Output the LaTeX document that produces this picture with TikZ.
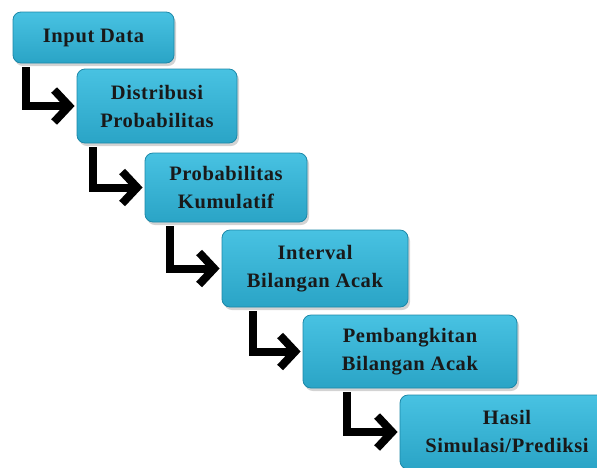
\documentclass[tikz,border=0pt]{standalone}
\usepackage{fontspec}
\setmainfont{Liberation Serif}[LetterSpace=3]
\usetikzlibrary{arrows.meta,shadows}
\definecolor{boxtop}{HTML}{48C2E2}
\definecolor{boxbot}{HTML}{2AA4C6}
\definecolor{boxline}{HTML}{1C88A8}
\begin{document}
\begin{tikzpicture}[x=1pt,y=-1pt,
  stepbox/.style={rectangle, rounded corners=8pt, draw=boxline, line width=0.8pt,
    top color=boxtop, bottom color=boxbot, align=center,
    font=\fontsize{20.5}{28}\selectfont\bfseries, text=black!90,
    drop shadow={opacity=0.35, shadow xshift=2pt, shadow yshift=-3pt}},
  arr/.style={line width=8pt, draw=black, line join=miter,
    -{Straight Barb[length=15pt,width=32pt,line width=8pt]}}]
\useasboundingbox (0,0) rectangle (597,467);
\node[stepbox, minimum width=161pt, minimum height=51pt] (b1) at (93.5,37.5) {Input Data};
\node[stepbox, minimum width=160pt, minimum height=74pt] (b2) at (157,106) {Distribusi\\Probabilitas};
\node[stepbox, minimum width=162pt, minimum height=69pt] (b3) at (226,187.5) {Probabilitas\\Kumulatif};
\node[stepbox, minimum width=186pt, minimum height=77pt] (b4) at (315,268.5) {Interval\\Bilangan Acak};
\node[stepbox, minimum width=214pt, minimum height=73pt] (b5) at (410,351.5) {Pembangkitan\\Bilangan Acak};
\node[stepbox, minimum width=214pt, minimum height=74pt] (b6) at (507,432) {Hasil\\Simulasi/Prediksi};
\draw[arr] ([xshift=13pt,yshift=-4pt]b1.south west) |- ([xshift=-2pt]b2.west);
\draw[arr] ([xshift=16pt,yshift=-4pt]b2.south west) |- ([xshift=-2pt]b3.west);
\draw[arr] ([xshift=25pt,yshift=-4pt]b3.south west) |- ([xshift=-2pt]b4.west);
\draw[arr] ([xshift=31pt,yshift=-4pt]b4.south west) |- ([xshift=-2pt]b5.west);
\draw[arr] ([xshift=44pt,yshift=-4pt]b5.south west) |- ([xshift=-2pt]b6.west);
\end{tikzpicture}
\end{document}
